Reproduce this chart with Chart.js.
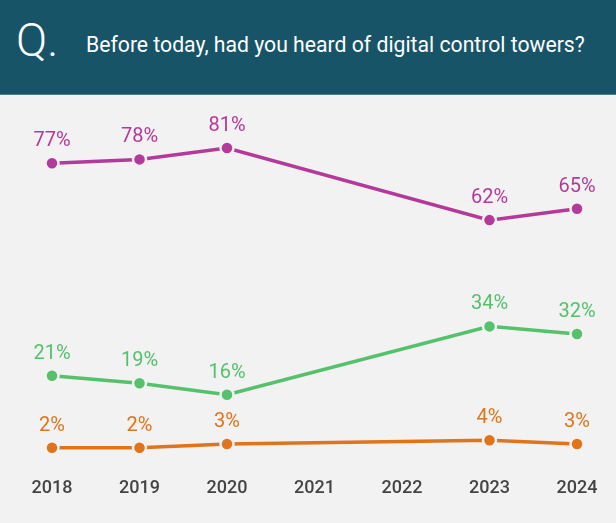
<!DOCTYPE html>
<html>
<head>
<meta charset="utf-8">
<script src="https://cdn.jsdelivr.net/npm/chart.js@4/dist/chart.umd.min.js"></script>
<style>
  body { margin: 0; width: 616px; height: 523px; background: #f2f2f2; font-family: Roboto, sans-serif; overflow: hidden; }
  #head { height: 95px; background: #175468; color: #fff; position: relative; border-bottom: 1px solid #4a7d8f; box-sizing: border-box; }
  #q { position: absolute; left: 16px; top: 13px; font-size: 46px; font-weight: 300; }
  #title { position: absolute; left: 86px; top: 32px; font-size: 21.2px; }
  #wrap { position: absolute; top: 95px; left: 0; width: 616px; height: 428px; }
</style>
</head>
<body>
<div id="head"><span id="q">Q.</span><span id="title">Before today, had you heard of digital control towers?</span></div>
<div id="wrap"><canvas id="myChart"></canvas></div>
<script>
var years = ["2018", "2019", "2020", "2021", "2022", "2023", "2024"];
var heard = [77, 78, 81, null, null, 62, 65];
var green = [21, 19, 16, null, null, 34, 32];
var orange = [2, 2, 3, null, null, 4, 3];
var colors = ["#b5399b", "#55c16a", "#e0741a"];

// draws "NN%" above each point
var valueLabels = {
	id: "valueLabels",
	afterDatasetsDraw: function (chart) {
		var ctx = chart.ctx;
		ctx.save();
		ctx.font = "20px Roboto";
		ctx.textAlign = "center";
		ctx.textBaseline = "middle";
		chart.data.datasets.forEach(function (ds, i) {
			var meta = chart.getDatasetMeta(i);
			meta.data.forEach(function (pt, j) {
				if (ds.data[j] == null) return;
				ctx.fillStyle = ds.borderColor;
				ctx.fillText(ds.data[j] + "%", pt.x, pt.y - 22);
			});
		});
		ctx.restore();
	}
};

function mkSet(vals, c) {
	return {
		data: vals,
		borderColor: c,
		backgroundColor: c,
		borderWidth: 3.5,
		pointRadius: 6.5,
		pointBorderWidth: 2.5,
		pointBorderColor: "#f2f2f2",
		pointBackgroundColor: c,
		spanGaps: true,
		tension: 0
	};
}

new Chart("myChart", {
	type: "line",
	data: {
		labels: years,
		datasets: [mkSet(heard, colors[0]), mkSet(green, colors[1]), mkSet(orange, colors[2])]
	},
	options: {
		responsive: true,
		maintainAspectRatio: false,
		animation: false,
		layout: { padding: { left: 52, right: 39, top: 0, bottom: 10 } },
		plugins: { legend: { display: false }, tooltip: { enabled: false } },
		scales: {
			x: {
				offset: false,
				grid: { display: false },
				border: { display: false },
				ticks: { color: "#444", font: { family: "Roboto", size: 18, weight: "500" }, padding: 14 }
			},
			y: { display: false, min: 0, max: 92.6 }
		}
	},
	plugins: [valueLabels]
});
</script>
</body>
</html>
